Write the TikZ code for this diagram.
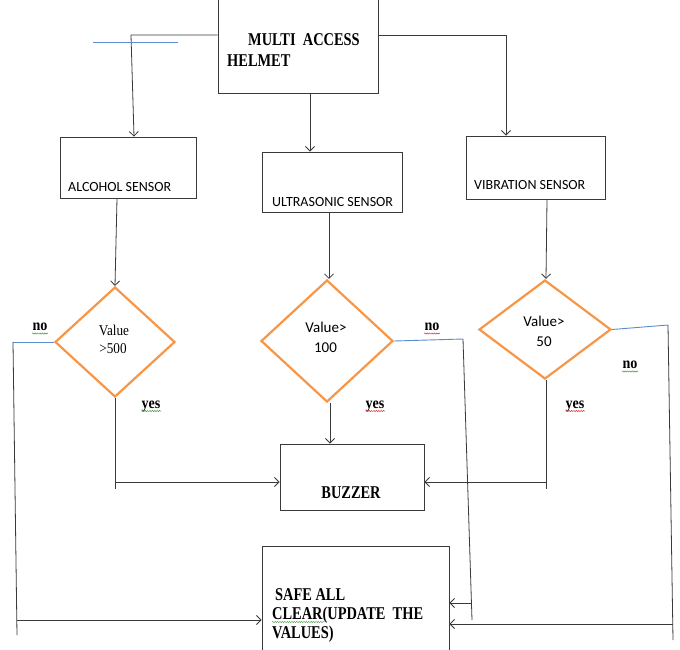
\documentclass[tikz,border=0pt]{standalone}
\usepackage{fontspec}
\setmainfont{Liberation Serif}
\newfontfamily\tnrfont[FakeStretch=0.8]{Liberation Serif}
\newfontfamily\tnrvfont[FakeStretch=0.88]{Liberation Serif}
\newfontfamily\carlitofont{Carlito}
\usetikzlibrary{shapes.geometric,arrows.meta,decorations.pathmorphing}
\definecolor{lncol}{HTML}{3A3A3A}
\definecolor{bluecol}{HTML}{5B8BD0}
\definecolor{orangecol}{HTML}{F79646}
\definecolor{spgreen}{HTML}{3E9B3E}
\definecolor{spred}{HTML}{D03A3A}
\tikzset{
  ln/.style={draw=lncol, line width=0.8pt},
  arr/.style={ln, -{Straight Barb[length=4.5pt,width=9pt]}},
  bl/.style={draw=bluecol, line width=0.9pt},
  box/.style={draw=lncol, line width=0.9pt, inner sep=0pt, rectangle},
  dia/.style={diamond, draw=orangecol, line width=2.2pt, inner sep=0pt},
  bt/.style={font=\tnrfont\bfseries\fontsize{18}{19}\selectfont, inner sep=0pt},
  yn/.style={font=\tnrvfont\bfseries\fontsize{16}{18}\selectfont, inner sep=0pt, anchor=base},
  vt/.style={font=\tnrvfont\fontsize{15}{17}\selectfont, inner sep=0pt, anchor=base},
  ct/.style={font=\carlitofont\fontsize{15}{17}\selectfont, inner sep=0pt, anchor=base},
  sens/.style={font=\carlitofont\fontsize{14}{16}\selectfont, inner sep=0pt, anchor=base west},
  squig/.style={line width=0.5pt, decorate, decoration={snake, amplitude=0.6pt, segment length=2.4pt}},
}
\begin{document}
\begin{tikzpicture}[x=1pt,y=-1pt]
\clip (0,0) rectangle (680,649);
\fill[white] (0,0) rectangle (680,649);

% boxes
\node[box, minimum width=160, minimum height=112] (helmet) at (298,37) {};
\node[bt, anchor=base west] (th1) at (248,45) {MULTI\ \ ACCESS};
\node[bt, anchor=base west] (th2) at (227,66) {HELMET};

\node[box, minimum width=136, minimum height=61] (alc) at (128,167.5) {};
\node[sens] (talc) at (68,191) {ALCOHOL SENSOR};
\node[box, minimum width=140, minimum height=60] (ult) at (332,182) {};
\node[sens] (tult) at (272,206) {ULTRASONIC SENSOR};
\node[box, minimum width=139, minimum height=63] (vib) at (535.5,167.5) {};
\node[sens] (tvib) at (474,189) {VIBRATION SENSOR};

% diamonds
\node[dia, minimum width=120, minimum height=110] (d1) at (115,342) {};
\node[vt] (v1a) at (114,335) {Value};
\node[vt] (v1b) at (113,353) {>500};
\node[dia, minimum width=132, minimum height=122] (d2) at (327,341) {};
\node[ct] (v2a) at (326,332) {Value>};
\node[ct] (v2b) at (325.5,352) {100};
\node[dia, minimum width=132, minimum height=99] (d3) at (545,329.5) {};
\node[ct] (v3a) at (544,326) {Value>};
\node[ct] (v3b) at (544,346) {50};

\node[box, minimum width=144, minimum height=66] (buz) at (352,477) {};
\node[bt, anchor=base] (tbuz) at (351,498) {BUZZER};

\node[box, minimum width=187, minimum height=120] (safe) at (355.5,606) {};
\node[bt, anchor=base west] (ts1) at (275,600) {SAFE ALL};
\node[bt, anchor=base west] (ts2) at (272,619) {CLEAR(UPDATE\ \ THE};
\node[bt, anchor=base west] (ts3) at (272,638) {VALUES)};

% yes / no labels
\node[yn] (no1) at (40,330) {no};
\node[yn] (yes1) at (151,408) {yes};
\node[yn] (no2) at (432,330) {no};
\node[yn] (yes2) at (375,408) {yes};
\node[yn] (no3) at (630,368) {no};
\node[yn] (yes3) at (575,408) {yes};
\draw[squig, spgreen] (32,333.5) -- (48,333.5);
\draw[squig, spgreen] (142,411) -- (161,411);
\draw[squig, spred] (424,333.5) -- (440,333.5);
\draw[squig, spred] (366,411) -- (385,411);
\draw[squig, spgreen] (622,371.5) -- (638,371.5);
\draw[squig, spred] (566,411) -- (585,411);
\draw[squig, spgreen, line width=0.4pt] (272,622) -- (325,622);

% helmet to sensors
\coordinate (hl) at (131,35);
\coordinate (hr) at (506,35);
\draw[arr] (helmet.west |- hl) -- (hl) -- ([xshift=6pt]alc.north);
\draw[arr] (helmet.east |- hr) -- (hr) -- (hr |- vib.north);
\draw[arr] ([xshift=12pt]helmet.south) -- ([xshift=-22pt]ult.north);
\draw[bl] (93,42) -- (178,42);

% sensors to diamonds
\draw[arr] ([xshift=-11pt]alc.south) -- (d1.north);
\draw[arr] ([xshift=-3pt]ult.south) -- ([xshift=2pt]d2.north);
\draw[arr] ([xshift=11.5pt]vib.south) -- ([xshift=1pt]d3.north);

% yes branches
\coordinate (y1) at (115,489);
\coordinate (y1a) at (115,482);
\draw[ln] (d1.south) -- (y1);
\draw[arr] (y1a) -- (y1a -| buz.west);
\draw[arr] ([xshift=3pt]d2.south) -- ([xshift=-22pt]buz.north);
\coordinate (y3) at (546,489);
\coordinate (y3a) at (546,482);
\draw[ln] ([xshift=1pt]d3.south) -- (y3);
\draw[arr] (y3a) -- (y3a -| buz.east);

% no branches
\coordinate (n1) at (13,342);
\coordinate (n1e) at (17,635);
\coordinate (n1a) at (16.5,620);
\draw[bl] (d1.west) -- (n1);
\draw[ln] (n1) -- (n1e);
\draw[arr] (n1a) -- (n1a -| safe.west);

\coordinate (n2) at (463,339);
\coordinate (n2e) at (472,620);
\coordinate (n2a) at (471.2,603);
\draw[bl] (d2.east) -- (n2);
\draw[ln] (n2) -- (n2e);
\draw[arr] (n2a) -- (n2a -| safe.east);

\coordinate (n3) at (668,325);
\coordinate (n3e) at (673,640);
\coordinate (n3a) at (672.5,624);
\draw[bl] (d3.east) -- (n3);
\draw[ln] (n3) -- (n3e);
\draw[arr] (n3a) -- (n3a -| safe.east);
\end{tikzpicture}
\end{document}
